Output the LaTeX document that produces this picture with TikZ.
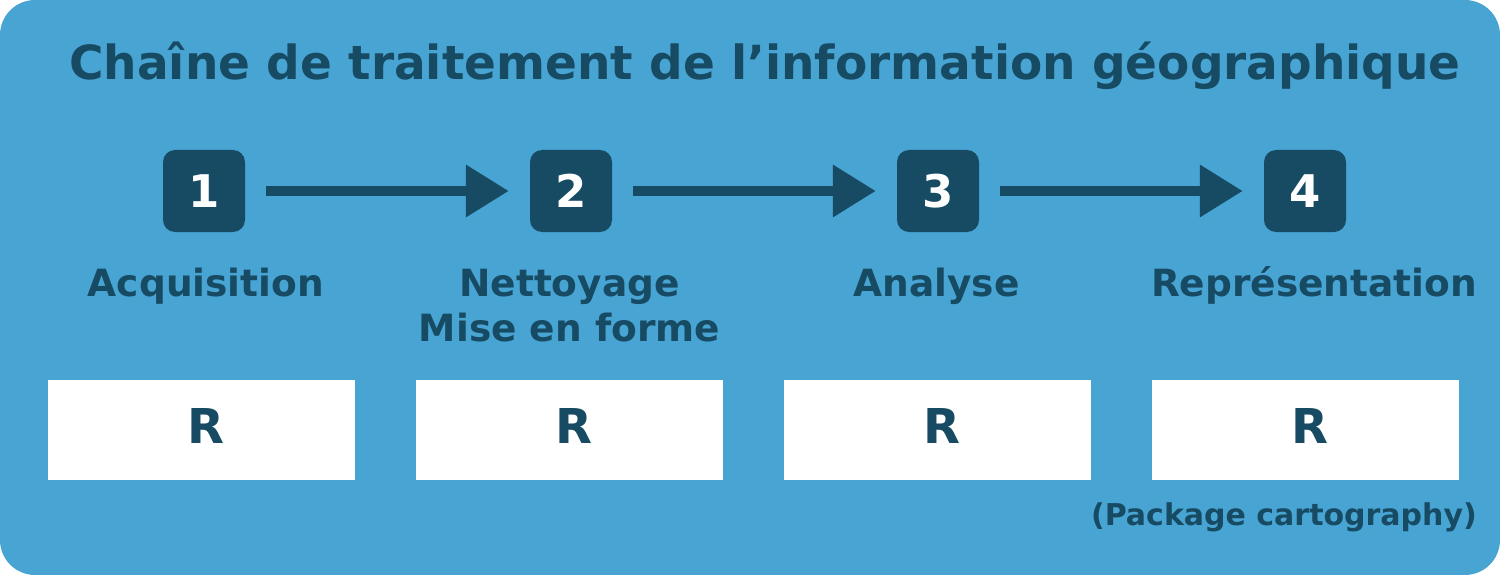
\documentclass[tikz,border=0pt]{standalone}
\usepackage{fontspec}
\setmainfont{DejaVu Sans}
\usetikzlibrary{arrows.meta}
\definecolor{bgblue}{HTML}{48A4D2}
\definecolor{darkblue}{HTML}{174A63}
\begin{document}
\begin{tikzpicture}[x=1pt,y=-1pt,
  numbox/.style={fill=darkblue,rounded corners=12pt,minimum width=82pt,minimum height=82pt,inner sep=0pt,text=white,font=\bfseries\fontsize{45}{50}\selectfont},
  rbox/.style={fill=white,minimum width=307pt,minimum height=100pt,inner sep=0pt},
  rtext/.style={text=darkblue,font=\bfseries\fontsize{48}{50}\selectfont,anchor=base},
  lab/.style={text=darkblue,font=\bfseries\fontsize{37.5}{45}\selectfont,align=center,anchor=base},
  flow/.style={darkblue,line width=10pt,-{Triangle[length=43pt,width=50pt]}}]
\useasboundingbox (0,0) rectangle (1500,575);
\fill[bgblue,rounded corners=35pt] (0,0) rectangle (1500,575);
\node[text=darkblue,font=\bfseries\fontsize{47}{50}\selectfont,anchor=base] (title) at (765,79.5) {Chaîne de traitement de l’information géographique};
\node[numbox] (n1) at (204,191) {1};
\node[numbox] (n2) at (571,191) {2};
\node[numbox] (n3) at (938,191) {3};
\node[numbox] (n4) at (1305,191) {4};
\draw[flow] ([xshift=21pt]n1.east) -- ([xshift=-21pt]n2.west);
\draw[flow] ([xshift=21pt]n2.east) -- ([xshift=-21pt]n3.west);
\draw[flow] ([xshift=21pt]n3.east) -- ([xshift=-21pt]n4.west);
\node[lab] (l1) at (206,296) {Acquisition};
\node[lab] (l2) at (569.5,341) {Nettoyage\\Mise en forme};
\node[lab] (l3) at (936.5,296) {Analyse};
\node[lab] (l4) at (1314,296) {Représentation};
\node[rbox] (r1) at (201.5,430) {};
\node[rbox] (r2) at (569.5,430) {};
\node[rbox] (r3) at (937.5,430) {};
\node[rbox] (r4) at (1305.5,430) {};
\node[rtext] at ([xshift=4pt,yshift=-13pt]r1.center) {R};
\node[rtext] at ([xshift=4pt,yshift=-13pt]r2.center) {R};
\node[rtext] at ([xshift=4pt,yshift=-13pt]r3.center) {R};
\node[rtext] at ([xshift=4pt,yshift=-13pt]r4.center) {R};
\node[text=darkblue,font=\bfseries\fontsize{30}{32}\selectfont,anchor=base east,inner sep=0pt] (pkg) at (1477,525) {(Package cartography)};
\end{tikzpicture}
\end{document}
